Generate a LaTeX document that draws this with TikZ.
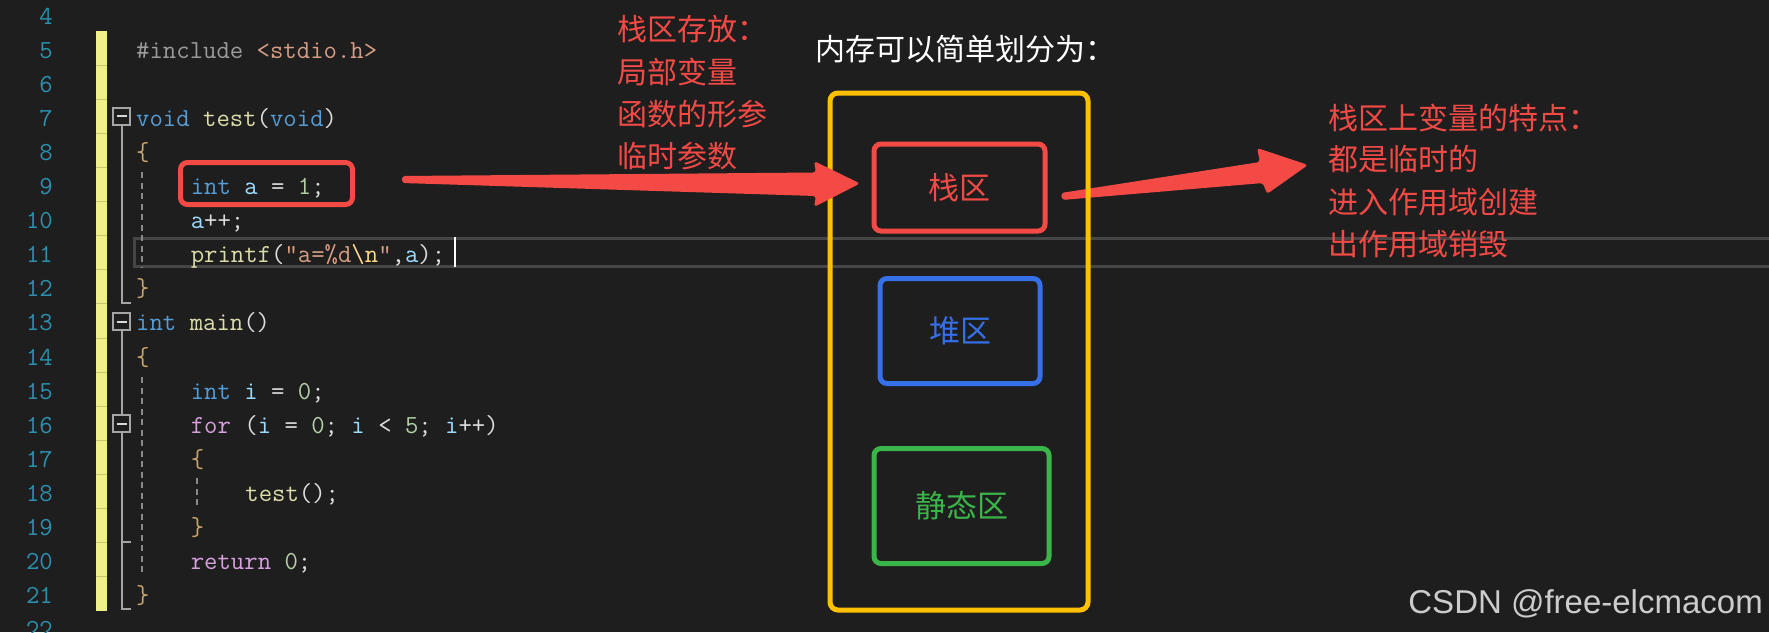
\documentclass[tikz,border=0pt]{standalone}
\usepackage{fontspec}
\newfontfamily\cjk{Noto Sans CJK SC}
\newfontfamily\wmfont{Liberation Sans}
\definecolor{bgcol}{HTML}{1E1E1E}
\definecolor{vskw}{HTML}{569CD6}
\definecolor{vsfn}{HTML}{DCDCAA}
\definecolor{vsvar}{HTML}{9CDCFE}
\definecolor{vsnum}{HTML}{B5CEA8}
\definecolor{vsstr}{HTML}{D69D85}
\definecolor{vsesc}{HTML}{FFD68F}
\definecolor{vspre}{HTML}{9B9B9B}
\definecolor{vsctl}{HTML}{D8A0DF}
\definecolor{vstext}{HTML}{DCDCDC}
\definecolor{vsbrace}{HTML}{C8A46E}
\definecolor{vslnum}{HTML}{2B91AF}
\definecolor{vsfold}{HTML}{A5A5A5}
\definecolor{vsguide}{HTML}{8A8A8A}
\definecolor{vscur}{HTML}{464646}
\definecolor{vsbar}{HTML}{EFF08A}
\definecolor{vsbarsep}{HTML}{C8C86E}
\definecolor{annred}{HTML}{F34A46}
\definecolor{annyel}{HTML}{FFC000}
\definecolor{annblue}{HTML}{3570E8}
\definecolor{anngreen}{HTML}{3AB54A}
\definecolor{wmcol}{HTML}{CCCCCC}
\newcommand\ckw[1]{\textcolor{vskw}{#1}}
\newcommand\cfn[1]{\textcolor{vsfn}{#1}}
\newcommand\cvar[1]{\textcolor{vsvar}{#1}}
\newcommand\cnum[1]{\textcolor{vsnum}{#1}}
\newcommand\cstr[1]{\textcolor{vsstr}{#1}}
\newcommand\cesc[1]{\textcolor{vsesc}{#1}}
\newcommand\cpre[1]{\textcolor{vspre}{#1}}
\newcommand\cctl[1]{\textcolor{vsctl}{#1}}
\newcommand\cbr[1]{\textcolor{vsbrace}{#1}}

\begin{document}
\begin{tikzpicture}[x=1pt, y=-1pt,
  code/.style={anchor=base west, inner sep=0pt, text=vstext,
               font=\ttfamily\fontsize{26}{30}\selectfont},
  lnum/.style={anchor=base east, inner sep=0pt, text=vslnum,
               font=\ttfamily\fontsize{26}{30}\selectfont},
  fold/.style={draw=vsfold, line width=2pt, minimum size=17pt, inner sep=0pt},
  foldln/.style={draw=vsfold, line width=2pt},
  guide/.style={draw=vsguide, line width=2pt, dash pattern=on 6pt off 4.5pt},
  note/.style={anchor=west, inner sep=0pt, font=\cjk\fontsize{30}{36}\selectfont},
  zone/.style={draw, rounded corners=7pt, line width=5pt, inner sep=0pt,
               font=\cjk\fontsize{31}{36}\selectfont},
  fat/.style={fill=annred, rounded corners=3pt}
]
  \useasboundingbox (0,0) rectangle (1769,632);
  \fill[bgcol] (0,0) rectangle (1769,632);
  \clip (0,0) rectangle (1769,632);

  \fill[vsbar] (96,31) rectangle (106.7,610.7);
  \foreach \k in {1,...,16}
    \draw[vsbarsep, line width=0.8pt] (96,{31+\k*34.1}) -- (106.7,{31+\k*34.1});

  \draw[vscur, line width=3.5pt] (134.5,238.5) rectangle (1790,266.5);

  \node[fold] (f7)  at (121.5,116)   {};
  \node[fold] (f13) at (121.5,321.5) {};
  \node[fold] (f16) at (121.5,423.5) {};
  \foreach \f in {f7,f13,f16}
    \draw[foldln, draw=white!85!black] ([xshift=-5pt]\f.center) -- ([xshift=5pt]\f.center);
  \coordinate (t12) at (130.5,303);
  \coordinate (t19) at (130.5,542);
  \coordinate (t21) at (130.5,609);
  \draw[foldln] (f7.south) |- (t12);
  \draw[foldln] (f13) -- (f16);
  \draw[foldln] (f16.south) |- (t19);
  \draw[foldln] (f16.south) |- (t21);

  \draw[guide] (141.7,172) -- (141.7,268);
  \draw[guide] (141.7,377) -- (141.7,576);
  \draw[guide] (196.7,478) -- (196.7,508);

  \foreach \n in {4,...,22}
    \node[lnum] (n\n) at (53,{24+(\n-4)*34.1}) {\n};

  \node[code] (c5)  at (136,58.1)    {\cpre{\#include} \cstr{<stdio.h>}};
  \node[code] (c7)  at (136,126.3)   {\ckw{void} \cfn{test}(\ckw{void})};
  \node[code] (c8)  at (136,160.4)   {\cbr{\{}};
  \node[code] (c9)  at (190.6,194.5) {\ckw{int} \cvar{a} = \cnum{1};};
  \node[code] (c10) at (190.6,228.6) {\cvar{a}++;};
  \node[code] (c11) at (190.6,262.7) {\cfn{printf}(\cstr{"a=\%d}\cesc{\textbackslash n}\cstr{"},\cvar{a});};
  \node[code] (c12) at (136,296.8)   {\cbr{\}}};
  \node[code] (c13) at (136,330.9)   {\ckw{int} \cfn{main}()};
  \node[code] (c14) at (136,365)     {\cbr{\{}};
  \node[code] (c15) at (190.6,399.1) {\ckw{int} \cvar{i} = \cnum{0};};
  \node[code] (c16) at (190.6,433.2) {\cctl{for} (\cvar{i} = \cnum{0}; \cvar{i} < \cnum{5}; \cvar{i}++)};
  \node[code] (c17) at (190.6,467.3) {\cbr{\{}};
  \node[code] (c18) at (245.2,501.4) {\cfn{test}();};
  \node[code] (c19) at (190.6,535.5) {\cbr{\}}};
  \node[code] (c20) at (190.6,569.6) {\cctl{return} \cnum{0};};
  \node[code] (c21) at (136,603.7)   {\cbr{\}}};
  \draw[white, line width=1.5pt] (455,237) -- (455,267);

  \fill[fat] (1061,193) -- (1260,162) -- (1257,148) -- (1308,165) -- (1267,194) -- (1263,183) -- (1062,200) -- cycle;

  \node[zone, draw=annred, minimum width=172, minimum height=42] (varbox) at (266.5,183.5) {};
  \node[zone, draw=annyel, rounded corners=8pt, minimum width=258, minimum height=517] (mem) at (959,351.5) {};
  \node[zone, draw=annred, text=annred, minimum width=171, minimum height=87] (stack) at (959.5,187.5) {栈区};
  \node[zone, draw=annblue, text=annblue, minimum width=160, minimum height=105] (heap) at (960,331) {堆区};
  \node[zone, draw=anngreen, text=anngreen, minimum width=175, minimum height=115] (static) at (961.5,506) {静态区};

  \fill[fat] (402,176) -- (816,172.5) -- (814,161) -- (860,183.5) -- (814,207) -- (816,196) -- (402,183) -- cycle;

  \node[note, text=annred] (s1) at (617,29)  {栈区存放：};
  \node[note, text=annred] (s2) at (617,72)  {局部变量};
  \node[note, text=annred] (s3) at (617,114) {函数的形参};
  \node[note, text=annred] (s4) at (617,156) {临时参数};
  \node[note, text=white] (title) at (815,49) {内存可以简单划分为：};
  \node[note, text=annred] (r1) at (1328,117.5) {栈区上变量的特点：};
  \node[note, text=annred] (r2) at (1328,159)   {都是临时的};
  \node[note, text=annred] (r3) at (1328,202.5) {进入作用域创建};
  \node[note, text=annred] (r4) at (1328,244)   {出作用域销毁};

  \node[anchor=base east, inner sep=0pt, text=wmcol, font=\wmfont\fontsize{33}{36}\selectfont] (wm) at (1763,613) {CSDN @free-elcmacom};
\end{tikzpicture}
\end{document}
